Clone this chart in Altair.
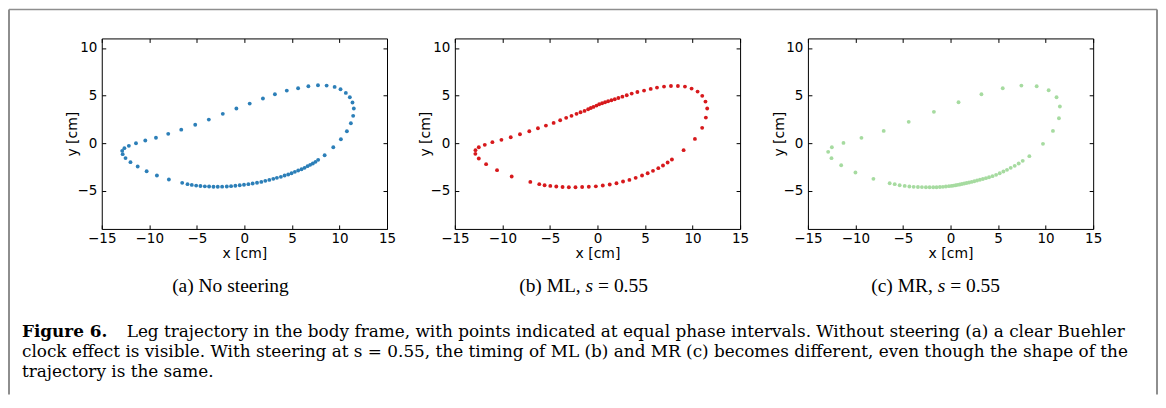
import altair as alt
import pandas as pd

# ---------------- data ----------------
X_TICKS = [-15, -10, -5, 0, 5, 10, 15]
Y_TICKS = [-5, 0, 5, 10]

a_x = [-11.40, -10.42, -9.30, -8.01, -6.64, -5.17, -3.74, -2.27, -0.84, 0.56,
       1.95, 3.21, 4.46, 5.65, 6.73, 7.74, 8.65, 9.49, 10.11, 10.67,
       11.09, 11.37, 11.51, 11.44, 11.20, 10.78, 10.15, 9.35, 8.44, 7.76,
       7.48, 7.20, 6.92, 6.64, 6.33, 6.01, 5.66, 5.31, 4.96, 4.61,
       4.23, 3.84, 3.42, 3.04, 2.62, 2.20, 1.78, 1.33, 0.87, 0.42,
       -0.04, -0.49, -0.95, -1.40, -1.85, -2.34, -2.80, -3.25, -3.71, -4.16,
       -4.62, -5.07, -5.53, -5.98, -6.54,
       -7.94, -9.20, -10.28, -11.22, -11.98, -12.50, -12.80, -12.85, -12.62, -12.15]
a_y = [0.00, 0.28, 0.57, 0.98, 1.42, 1.94, 2.48, 3.08, 3.64, 4.16,
       4.69, 5.14, 5.52, 5.77, 5.98, 6.08, 6.05, 5.91, 5.66, 5.28,
       4.83, 4.27, 3.64, 2.87, 2.10, 1.26, 0.42, -0.42, -1.26, -1.75,
       -1.96, -2.13, -2.27, -2.41, -2.59, -2.73, -2.87, -3.01, -3.15, -3.29,
       -3.39, -3.53, -3.64, -3.74, -3.85, -3.95, -4.06, -4.15, -4.23, -4.30,
       -4.36, -4.42, -4.47, -4.51, -4.54, -4.56, -4.57, -4.57, -4.55, -4.53,
       -4.49, -4.45, -4.38, -4.30, -4.16,
       -3.81, -3.39, -2.94, -2.45, -1.99, -1.56, -1.15, -0.80, -0.52, -0.28]

b_x = [-12.48, -12.83, -12.84, -12.48, -11.71, -10.56, -9.02, -7.06, -6.12, -5.56,
       -4.96, -4.33, -3.67, -3.01, -2.31, -1.61, -0.91, -0.17, 0.56, 1.29,
       2.00, 2.69, 3.36, 4.02, 4.69, 5.28, 5.84, 6.40, 6.89, 7.38,
       7.83, 9.06, 10.25, 11.01, 11.40, 11.54, 11.36, 11.02, 10.53, 9.90,
       9.20, 8.46, 7.73, 7.00, 6.26, 5.60, 4.90, 4.20, 3.60, 3.08,
       2.62, 2.20, 1.82, 1.47, 1.12, 0.80, 0.49, 0.18, -0.10, -0.42,
       -0.70, -0.98, -1.36, -1.78, -2.20, -2.73, -3.29, -3.92, -4.61, -5.42,
       -6.26, -7.17, -8.15, -9.12, -10.10, -11.05, -11.85]
b_y = [-0.42, -0.73, -1.12, -1.61, -2.20, -2.83, -3.50, -4.06, -4.30, -4.41,
       -4.48, -4.55, -4.60, -4.62, -4.62, -4.60, -4.57, -4.53, -4.44, -4.34,
       -4.20, -4.02, -3.85, -3.64, -3.39, -3.15, -2.90, -2.62, -2.34, -2.03,
       -1.71, -0.73, 0.45, 1.61, 2.69, 3.64, 4.37, 4.97, 5.42, 5.73,
       5.94, 6.01, 6.01, 5.94, 5.84, 5.70, 5.52, 5.38, 5.21, 5.03,
       4.89, 4.75, 4.62, 4.51, 4.41, 4.30, 4.20, 4.09, 3.95, 3.81,
       3.69, 3.57, 3.39, 3.25, 3.08, 2.87, 2.66, 2.41, 2.13, 1.85,
       1.57, 1.26, 0.94, 0.63, 0.35, 0.11, -0.17]

c_x = [0.84, 3.25, 5.49, 7.45, 9.06, 10.32, 11.15, 11.50, 11.40, 10.77,
       9.72, 8.29, 7.59, 7.17, 6.75, 6.33, 5.94, 5.56, 5.17, 4.79,
       4.41, 4.05, 3.72, 3.40, 3.09, 2.79, 2.50, 2.22, 1.95, 1.69,
       1.44, 1.20, 0.97, 0.75, 0.54, 0.32, 0.10, -0.17, -0.49, -0.80,
       -1.12, -1.47, -1.82, -2.20, -2.59, -3.01, -3.43, -3.88, -4.33, -4.82,
       -5.35, -5.87, -6.40, -8.11, -10.00, -11.50, -12.52, -12.87, -12.48, -11.26,
       -9.37, -7.03, -4.40, -1.75]
c_y = [4.30, 5.14, 5.77, 6.05, 5.98, 5.56, 4.83, 3.85, 2.62, 1.29,
       -0.07, -1.36, -1.85, -2.13, -2.38, -2.59, -2.80, -2.97, -3.15, -3.32,
       -3.46, -3.58, -3.67, -3.76, -3.84, -3.92, -3.99, -4.06, -4.12, -4.18,
       -4.23, -4.28, -4.33, -4.37, -4.41, -4.45, -4.48, -4.51, -4.55, -4.58,
       -4.60, -4.62, -4.62, -4.62, -4.62, -4.61, -4.60, -4.58, -4.55, -4.48,
       -4.41, -4.30, -4.20, -3.74, -3.08, -2.31, -1.57, -0.91, -0.42, 0.03,
       0.56, 1.29, 2.24, 3.29]

SUB_A = "(a) No steering"
SUB_B = ["(b) ML,", "s", "= 0.55"]
SUB_C = ["(c) MR,", "s", "= 0.55"]
CAPTION_BOLD = "Figure 6."
CAPTION_LINES = [
    "Leg trajectory in the body frame, with points indicated at equal phase intervals. Without steering (a) a clear Buehler",
    "clock effect is visible. With steering at s = 0.55, the timing of ML (b) and MR (c) becomes different, even though the shape of the",
    "trajectory is the same.",
]
COLORS = ["#2c7fb8", "#d7191c", "#a6dba0"]

# ---------------- styling ----------------
PW, PH = 286, 191
TICK_FONT = "DejaVu Sans"
SERIF = "Liberation Serif"
CAP_FONT = "DejaVu Serif"


def axis_style():
    return dict(grid=False, domain=False, ticks=True, tickSize=4, offset=-4,
                tickColor="black", tickWidth=1, labelFont=TICK_FONT,
                labelFontSize=13.5, labelColor="black", labelFlush=False,
                labelOverlap=False, titleFont=TICK_FONT, titleFontSize=14,
                titleFontWeight="normal", titleColor="black")


def panel(xs, ys, color):
    df = pd.DataFrame({"x": xs, "y": ys})
    xsc = alt.Scale(domain=[-15, 15], nice=False, zero=False)
    ysc = alt.Scale(domain=[-9, 11], nice=False, zero=False)
    main = alt.Chart(df).mark_circle(size=15, color=color, opacity=1).encode(
        x=alt.X("x:Q", scale=xsc,
                axis=alt.Axis(orient="bottom", values=X_TICKS, title="x [cm]",
                              labelPadding=3, titlePadding=1, **axis_style())),
        y=alt.Y("y:Q", scale=ysc,
                axis=alt.Axis(orient="left", values=Y_TICKS, title="y [cm]",
                              labelPadding=5, titlePadding=-3, **axis_style())),
    )
    mirror = alt.Chart(df).mark_circle(opacity=0).encode(
        x=alt.X("x:Q", scale=xsc,
                axis=alt.Axis(orient="top", values=X_TICKS, labels=False,
                              title="", **axis_style())),
        y=alt.Y("y:Q", scale=ysc,
                axis=alt.Axis(orient="right", values=Y_TICKS, labels=False,
                              title="", **axis_style())),
    )
    return (alt.layer(mirror, main)
            .resolve_axis(x="independent", y="independent")
            .properties(width=PW, height=PH))


pa = panel(a_x, a_y, COLORS[0])
pb = panel(b_x, b_y, COLORS[1])
pc = panel(c_x, c_y, COLORS[2])

row = alt.hconcat(pa, pb, pc, spacing=68, bounds="flush")

# ---------------- caption area ----------------
base = alt.Chart(pd.DataFrame({"d": [0]}))


def txt(text, x, y, size, align="left", weight="normal", style="normal",
        font=SERIF):
    return base.mark_text(text=text, align=align, baseline="alphabetic",
                          font=font, fontSize=size, fontWeight=weight,
                          fontStyle=style, color="black"
                          ).encode(x=alt.value(x), y=alt.value(y))


FRAME = "#8e8e8e"
CAP = 16.9
SUB = 19.5
layers = [
    base.mark_rule(color=FRAME, strokeWidth=2).encode(
        x=alt.value(-93), y=alt.value(-240), y2=alt.value(146)),
    base.mark_rule(color=FRAME, strokeWidth=2).encode(
        x=alt.value(1058), y=alt.value(-240), y2=alt.value(146)),
    base.mark_rule(color=FRAME, strokeWidth=1.5).encode(
        x=alt.value(-93), x2=alt.value(1058), y=alt.value(-240)),
    txt(SUB_A, 129, 43, SUB, align="center"),
    txt(SUB_B[0], 418.5, 43, SUB),
    txt(SUB_B[1], 485.1, 43, SUB, style="italic"),
    txt(SUB_B[2], 497.6, 43, SUB),
    txt(SUB_C[0], 771.5, 43, SUB),
    txt(SUB_C[1], 838.1, 43, SUB, style="italic"),
    txt(SUB_C[2], 850.6, 43, SUB),
    txt(CAPTION_BOLD, -80, 88, CAP, weight="bold", font=CAP_FONT),
    txt(CAPTION_LINES[0], 25, 88, CAP, font=CAP_FONT),
    txt(CAPTION_LINES[1], -80, 108.5, CAP, font=CAP_FONT),
    txt(CAPTION_LINES[2], -80, 128, CAP, font=CAP_FONT),
]
caption = alt.layer(*layers).properties(
    width=994, height=130, view=alt.ViewBackground(strokeOpacity=0))

# the panel row counts as zero height in a flush layout, so the spacing
# includes the panel height
chart = (alt.vconcat(row, caption, spacing=PH + 20, bounds="flush")
         .properties(padding=0)
         .configure_view(stroke="black", strokeWidth=1))

chart.save("out.html", embed_options={"renderer": "svg", "actions": False})
